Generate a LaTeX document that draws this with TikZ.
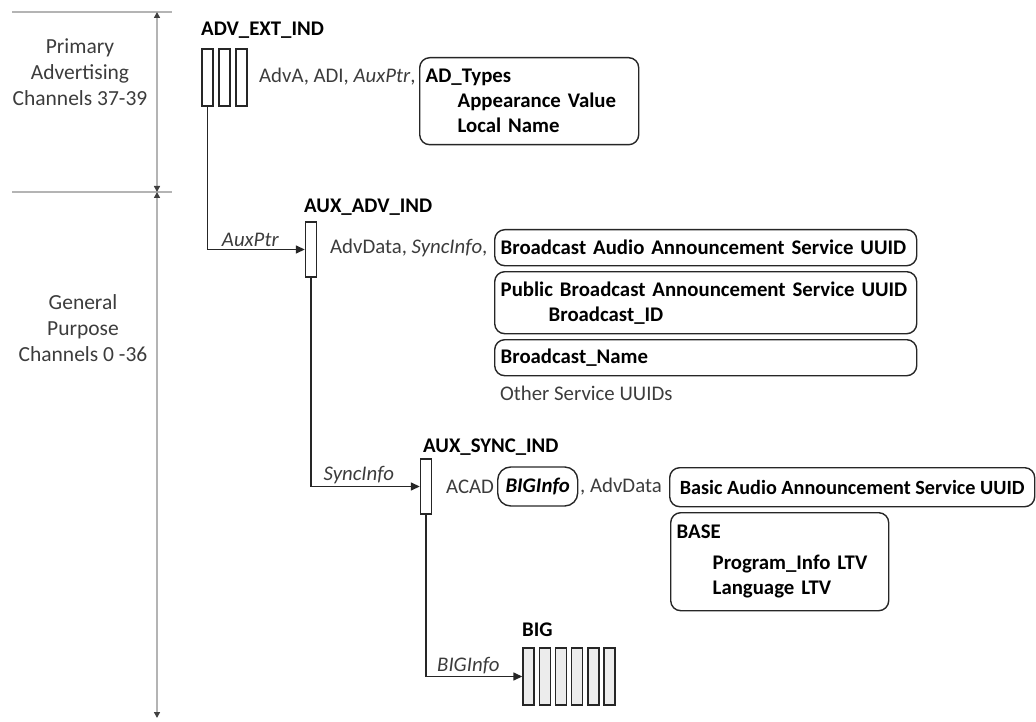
\documentclass[tikz,border=0pt]{standalone}
\usepackage{fontspec}
\setmainfont{Carlito}
\usepackage{xcolor}
\usetikzlibrary{arrows.meta,positioning}
\definecolor{rangegray}{RGB}{180,180,180}
\definecolor{textgray}{RGB}{60,60,60}
\newcommand{\diagfont}{\fontsize{20.8}{25}\selectfont}

\tikzset{
  pdu/.style={draw=black!85, line width=1.4pt, minimum width=11pt, minimum height=57pt, inner sep=0pt},
  bigpdu/.style={pdu, fill=gray!15},
  title/.style={font=\diagfont\bfseries, inner sep=0pt, anchor=west},
  plain/.style={font=\diagfont, text=textgray, inner sep=0pt, anchor=west},
  field/.style={draw=black!85, line width=1.4pt, rounded corners=10pt, font=\diagfont\bfseries, inner xsep=6pt, inner ysep=0pt, align=left, anchor=north west},
  link/.style={draw=black!85, line width=1.4pt, -{Triangle[length=9pt,width=8pt]}},
  linklabel/.style={font=\diagfont\itshape, text=textgray, above, inner sep=2pt, pos=0.72},
  rangeline/.style={rangegray, line width=1.6pt},
  rangearrow/.style={rangegray, line width=1.8pt, {Triangle[length=6pt,width=6pt,color=black!75]}-{Triangle[length=6pt,width=6pt,color=black!75]}},
  rangetext/.style={font=\fontsize{21.5}{26}\selectfont, text=textgray, align=center}
}

\begin{document}
\begin{tikzpicture}[x=1pt, y=-1pt]
\useasboundingbox (0,0) rectangle (1036,722);

% channel ranges on the left
\coordinate (rtop) at (157,12);
\coordinate (rmid) at (157,192);
\coordinate (rbot) at (157,718);
\draw[rangeline] (12,12) -- (172,12);
\draw[rangeline] (12,192) -- (172,192);
\draw[rangearrow] (rtop) -- (rmid);
\draw[rangearrow] (rmid) -- (rbot);
\node[rangetext] (primary) at (80,72) {Primary\\Advertising\\Channels 37-39};
\node[rangetext] (general) at (83,328) {General\\Purpose\\Channels 0 -36};

% ADV_EXT_IND
\node[title] (extname) at (201,30) {ADV\_EXT\_IND};
\node[pdu] (ext1) at (207.5,77.5) {};
\node[pdu, right=4.5pt of ext1] (ext2) {};
\node[pdu, right=4.5pt of ext2] (ext3) {};
\node[plain] (extfields) at (259,77) {AdvA, ADI, \textit{AuxPtr},};
\node[field, minimum width=219pt, minimum height=87pt, text width=207pt] (adtypes) at (419,57)
  {AD\_Types\\\hspace*{32pt}Appearance Value\\\hspace*{32pt}Local Name};

% AUX_ADV_IND
\node[title] (auxadvname) at (304,207) {AUX\_ADV\_IND};
\node[pdu, minimum height=55pt] (auxadv) at (311,249.5) {};
\draw[link] (ext1.south) |- node[linklabel] {AuxPtr} (auxadv.west);
\node[plain] (auxadvfields) at (330,248) {AdvData, \textit{SyncInfo},};
\node[field, minimum width=422pt, minimum height=36pt, text width=410pt] (baas) at (494,229)
  {Broadcast Audio Announcement Service UUID};
\node[field, minimum width=422pt, minimum height=62pt, text width=410pt] (pbas) at (494,271)
  {Public Broadcast Announcement Service UUID\\\hspace*{48pt}Broadcast\_ID};
\node[field, minimum width=422pt, minimum height=36pt, text width=410pt] (bname) at (494,339)
  {Broadcast\_Name};
\node[plain] (others) at (500,393) {Other Service UUIDs};

% AUX_SYNC_IND
\node[title] (auxsyncname) at (423,447) {AUX\_SYNC\_IND};
\node[pdu, minimum height=55pt] (auxsync) at (426,486.5) {};
\draw[link] (auxadv.south) |- node[linklabel] {SyncInfo} (auxsync.west);
\node[plain] (acad) at (446,487) {ACAD};
\node[field, font=\diagfont\bfseries\itshape, rounded corners=13pt, minimum width=80pt, minimum height=39pt,
  align=center, anchor=west] (biginfo) at (497,486.5) {BIGInfo};
\node[plain] (advdata) at (580,487) {, AdvData};
\node[field, font=\fontsize{20.2}{25}\selectfont\bfseries, minimum width=365pt, minimum height=39pt,
  inner xsep=3pt] (basic) at (669,467) {Basic Audio Announcement Service UUID};
\node[field, minimum width=218pt, minimum height=98pt, text width=206pt] (base) at (670,512)
  {BASE\\[6pt]\hspace*{36pt}Program\_Info LTV\\\hspace*{36pt}Language LTV};

% BIG
\node[title] (bigname) at (522,630) {BIG};
\foreach \i in {1,...,6}
  \node[bigpdu] (big\i) at ({528.5+16.2*(\i-1)},676.5) {};
\draw[link] (auxsync.south) |- node[linklabel] {BIGInfo} (big1.west);
\end{tikzpicture}
\end{document}
